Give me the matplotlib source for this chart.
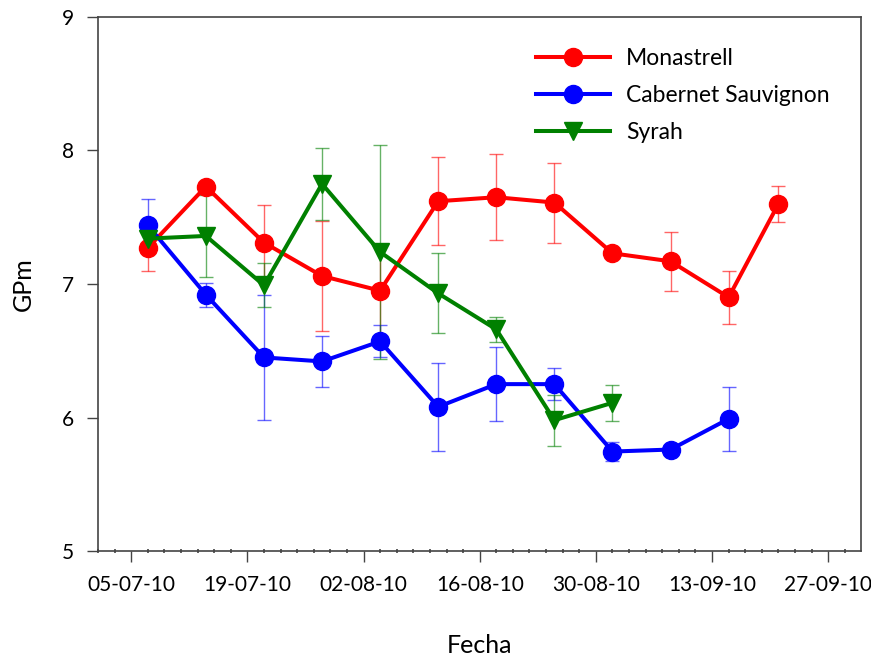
import numpy as np
import matplotlib
matplotlib.use("Agg")
from matplotlib import pyplot as plt
import matplotlib.dates as mdates
from datetime import date

plt.rcParams['font.family'] = ['Lato', 'DejaVu Sans']

# Fechas de muestreo
fechas_mon = ['2010-07-07', '2010-07-14', '2010-07-21', '2010-07-28', '2010-08-04', '2010-08-11',
              '2010-08-18', '2010-08-25', '2010-09-01', '2010-09-08', '2010-09-15', '2010-09-21']
fechas_cab = fechas_mon[:11]
fechas_syr = fechas_mon[:9]

# GPm medio y error
gpm_mon = [7.27, 7.73, 7.31, 7.06, 6.95, 7.62, 7.65, 7.61, 7.23, 7.17, 6.90, 7.60]
err_mon = [0.17, 0.00, 0.28, 0.41, 0.35, 0.33, 0.32, 0.30, 0.00, 0.22, 0.20, 0.135]

gpm_cab = [7.44, 6.92, 6.45, 6.42, 6.57, 6.08, 6.25, 6.25, 5.745, 5.76, 5.99]
err_cab = [0.20, 0.09, 0.47, 0.19, 0.12, 0.33, 0.275, 0.12, 0.07, 0.00, 0.24]

gpm_syr = [7.34, 7.36, 6.99, 7.75, 7.24, 6.93, 6.66, 5.98, 6.11]
err_syr = [0.05, 0.31, 0.165, 0.27, 0.80, 0.30, 0.095, 0.19, 0.135]

series = [
    ('Monastrell', fechas_mon, gpm_mon, err_mon, 'red', 'o'),
    ('Cabernet Sauvignon', fechas_cab, gpm_cab, err_cab, 'blue', 'o'),
    ('Syrah', fechas_syr, gpm_syr, err_syr, 'green', 'v'),
]

fig = plt.figure(figsize=(8.71, 6.61), dpi=100)
ax = fig.add_axes([0.1125, 0.1664, 0.8765, 0.8079])

for nombre, f, y, e, c, m in series:
    x = [date.fromisoformat(d) for d in f]
    ax.errorbar(x, y, yerr=e, fmt='none', ecolor=c, elinewidth=1, capsize=5,
                capthick=1, alpha=0.6, zorder=2)
    ax.plot(x, y, color=c, marker=m, lw=2.9, markersize=13,
            label=nombre, zorder=3)

ax.set_xlim(date(2010, 7, 1), date(2010, 10, 1))
ax.set_ylim(5, 9)
ax.set_yticks([5, 6, 7, 8, 9])

ax.set_xticks([date(2010, 7, 5), date(2010, 7, 19), date(2010, 8, 2), date(2010, 8, 16),
               date(2010, 8, 30), date(2010, 9, 13), date(2010, 9, 27)])
ax.xaxis.set_major_formatter(mdates.DateFormatter('%d-%m-%y'))
minor = mdates.date2num(date(2010, 7, 1)) + np.arange(0, 92, 2)
ax.set_xticks(minor, minor=True)

ax.tick_params(axis='both', which='major', direction='out', length=8, width=1,
               labelsize=15, color='#444444', pad=9)
ax.tick_params(axis='x', which='minor', direction='inout', length=3, width=1.2,
               color='#444444')
for s in ax.spines.values():
    s.set_color('#444444')
    s.set_linewidth(1.2)

ax.set_xlabel('Fecha', fontsize=18, labelpad=28)
ax.set_ylabel('GPm', fontsize=18, labelpad=20)

ax.legend(loc='upper right', bbox_to_anchor=(0.985, 0.98), frameon=False, fontsize=16.5,
          handlelength=3.2, handletextpad=0.7, labelspacing=0.7)

plt.savefig('out.png', dpi=100)
